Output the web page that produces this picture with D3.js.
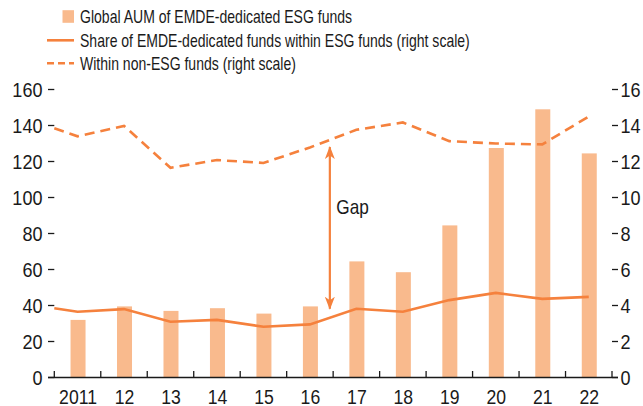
<!DOCTYPE html>
<html>
<head>
<meta charset="utf-8">
<script src="https://cdn.jsdelivr.net/npm/d3@7"></script>
<style>
  html, body { margin: 0; padding: 0; background: #fff; }
  svg { display: block; }
  text { font-family: "Liberation Sans", Arial, sans-serif; fill: #1a1a1a; }
</style>
</head>
<body>
<svg id="chart" width="643" height="406"></svg>
<script>
// Years on the category axis
const years = ["2011", "12", "13", "14", "15", "16", "17", "18", "19", "20", "21", "22"];
// Global AUM of EMDE-dedicated ESG funds (left scale)
const aumEsg = [32, 39.5, 37, 38.5, 35.5, 39.5, 64.5, 58.5, 84.5, 127.5, 149, 124.5];
// Share of EMDE-dedicated funds within ESG funds, % (right scale); first value is the start of 2011
const shareEsgStart = 3.85;
const shareEsg = [3.65, 3.8, 3.1, 3.2, 2.82, 2.95, 3.82, 3.65, 4.3, 4.7, 4.37, 4.48];
// Share within non-ESG funds, % (right scale)
const shareNonEsgStart = 13.85;
const shareNonEsg = [13.4, 13.98, 11.65, 12.08, 11.92, 12.78, 13.76, 14.17, 13.13, 13.0, 12.95, 14.5];
// Axis ticks
const leftTicks = [0, 20, 40, 60, 80, 100, 120, 140, 160];
const rightTicks = [0, 2, 4, 6, 8, 10, 12, 14, 16];
// Legend entries
const legendItems = [
  { label: "Global AUM of EMDE-dedicated ESG funds", kind: "bar" },
  { label: "Share of EMDE-dedicated funds within ESG funds (right scale)", kind: "solid" },
  { label: "Within non-ESG funds (right scale)", kind: "dashed" }
];

const barColor = "#F9BA8D";
const lineColor = "#F5813D";
const inkColor = "#1a1a1a";

const svg = d3.select("#chart");

// Condensed text: a regular face squeezed horizontally
function label(parent, tx, ty, str, size, anchor, sx) {
  return parent.append("text")
    .attr("transform", `translate(${tx},${ty}) scale(${sx},1)`)
    .attr("text-anchor", anchor)
    .attr("font-size", size)
    .text(str);
}

const x = d3.scaleBand().domain(years).range([54.3, 612]).paddingInner(0).paddingOuter(0);
const yL = d3.scaleLinear().domain([0, 160]).range([377.5, 89.5]);
const yR = d3.scaleLinear().domain([0, 16]).range([377.5, 89.5]);

const barW = 15;

// Bars
svg.append("g").selectAll("rect").data(years).join("rect")
  .attr("x", d => x(d) + x.bandwidth() / 2 - barW / 2 + 0.5)
  .attr("y", (d, i) => yL(aumEsg[i]))
  .attr("width", barW)
  .attr("height", (d, i) => yL(0) - yL(aumEsg[i]))
  .attr("fill", barColor);

// Line points: start of the period, then mid-year points
function linePoints(start, vals) {
  return [[x.range()[0], yR(start)]].concat(vals.map((v, i) => [x(years[i]) + x.bandwidth() / 2, yR(v)]));
}
const lineGen = d3.line();

svg.append("path")
  .attr("d", lineGen(linePoints(shareNonEsgStart, shareNonEsg)))
  .attr("fill", "none").attr("stroke", lineColor).attr("stroke-width", 2.6)
  .attr("stroke-dasharray", "10,6");

svg.append("path")
  .attr("d", lineGen(linePoints(shareEsgStart, shareEsg)))
  .attr("fill", "none").attr("stroke", lineColor).attr("stroke-width", 2.6);

// Bottom axis line with category ticks pointing up
const axisY = yL(0);
svg.append("line").attr("x1", 48).attr("x2", 618).attr("y1", axisY).attr("y2", axisY)
  .attr("stroke", inkColor).attr("stroke-width", 1.3);
const boundaries = years.map(d => x(d)).concat([x.range()[1]]);
svg.append("g").selectAll("line").data(boundaries).join("line")
  .attr("x1", d => d).attr("x2", d => d)
  .attr("y1", axisY - 6.5).attr("y2", axisY)
  .attr("stroke", inkColor).attr("stroke-width", 1.3);

// Category labels
const gx = svg.append("g");
years.forEach(d => label(gx, x(d) + x.bandwidth() / 2 + 0.5, 403.5, d, 21, "middle", 0.84));

// Left scale
const gl = svg.append("g");
gl.selectAll("line").data(leftTicks).join("line")
  .attr("x1", 48).attr("x2", 54.3)
  .attr("y1", d => yL(d)).attr("y2", d => yL(d))
  .attr("stroke", inkColor).attr("stroke-width", 1.3);
leftTicks.forEach(d => label(gl, 42.5, yL(d) + 7.6, String(d), 21, "end", 0.86));

// Right scale
const gr = svg.append("g");
gr.selectAll("line").data(rightTicks).join("line")
  .attr("x1", 612).attr("x2", 618)
  .attr("y1", d => yR(d)).attr("y2", d => yR(d))
  .attr("stroke", inkColor).attr("stroke-width", 1.3);
rightTicks.forEach(d => label(gr, 620.5, yR(d) + 7.6, String(d), 21, "start", 0.86));

// Gap annotation: double-headed arrow between the two lines
const defs = svg.append("defs");
["start", "end"].forEach(k => {
  defs.append("marker")
    .attr("id", "head-" + k)
    .attr("viewBox", "0 0 13 10")
    .attr("refX", 12).attr("refY", 5)
    .attr("markerWidth", 13).attr("markerHeight", 10)
    .attr("markerUnits", "userSpaceOnUse")
    .attr("orient", k === "start" ? "auto-start-reverse" : "auto")
    .append("path")
    .attr("d", "M0,0 L13,5 L0,10 L3.5,5 Z")
    .attr("fill", lineColor);
});
const gapX = x("17") - 3.3;
svg.append("line")
  .attr("x1", gapX).attr("x2", gapX)
  .attr("y1", yR(12.8)).attr("y2", yR(3.82))
  .attr("stroke", lineColor).attr("stroke-width", 2.2)
  .attr("marker-start", "url(#head-start)")
  .attr("marker-end", "url(#head-end)");
label(svg, gapX + 6.5, yR(9.45) + 7, "Gap", 20, "start", 0.86);

// Legend
const legendRowsY = [16.5, 40.3, 63.3];
const lg = svg.append("g");
legendItems.forEach((item, i) => {
  const cy = legendRowsY[i];
  if (item.kind === "bar") {
    lg.append("rect").attr("x", 62.5).attr("y", cy - 6.3).attr("width", 11.5).attr("height", 12.6).attr("fill", barColor);
  } else {
    lg.append("line").attr("x1", 47).attr("x2", 74).attr("y1", cy).attr("y2", cy)
      .attr("stroke", lineColor).attr("stroke-width", 2.6)
      .attr("stroke-dasharray", item.kind === "dashed" ? "7,4" : null);
  }
  label(lg, 80, cy + 6.4, item.label, 18, "start", 0.78);
});
</script>
</body>
</html>
